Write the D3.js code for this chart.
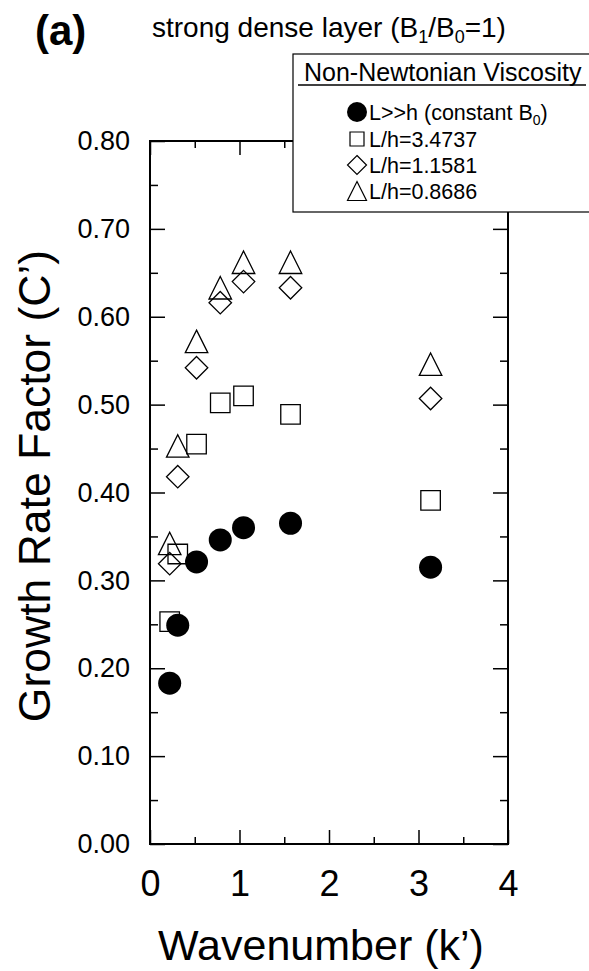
<!DOCTYPE html>
<html lang="en">
<head>
    <meta charset="utf8">
    <title>Growth Rate Factor</title>
    <script src="https://d3js.org/d3.v7.min.js"></script>
    <style>
        body { margin: 0; background: #fff; }
        svg { display: block; font-family: Arial, "Liberation Sans", Helvetica, sans-serif; }
    </style>
</head>
<body>
    <svg id="chart" width="589" height="971"></svg>
    <script>
        // wavenumbers k' for each column of points
        const kValues = [0.22, 0.31, 0.52, 0.785, 1.045, 1.57, 3.135];

        // growth rate factor C' for each series
        const constantB0 = [0.183, 0.249, 0.321, 0.346, 0.360, 0.365, 0.315];
        const lh34737 = [0.253, 0.330, 0.455, 0.502, 0.510, 0.489, 0.391];
        const lh11581 = [0.319, 0.418, 0.542, 0.616, 0.640, 0.633, 0.507];
        const lh08686 = [0.342, 0.453, 0.572, 0.633, 0.662, 0.662, 0.546];

        const yMajor = [0, 0.1, 0.2, 0.3, 0.4, 0.5, 0.6, 0.7, 0.8];
        const yMinor = [0.05, 0.15, 0.25, 0.35, 0.45, 0.55, 0.65, 0.75];
        const xMajor = [0, 1, 2, 3, 4];
        const xMinor = [0.5, 1.5, 2.5, 3.5];

        const legendLabels = ["L>>h (constant B", "L/h=3.4737", "L/h=1.1581", "L/h=0.8686"];

        const svg = d3.select("#chart");

        const x = d3.scaleLinear().domain([0, 4]).range([150, 508]);
        const y = d3.scaleLinear().domain([0, 0.8]).range([844, 141]);

        // marker shapes, centred on 0,0
        function marker(shape, s) {
            const h = s / 2;
            const p = d3.path();
            if (shape === "square") {
                p.rect(-h, -h, s, s);
            } else if (shape === "diamond") {
                p.moveTo(0, -h); p.lineTo(h, 0); p.lineTo(0, h); p.lineTo(-h, 0); p.closePath();
            } else if (shape === "triangle") {
                p.moveTo(0, -h); p.lineTo(h, h); p.lineTo(-h, h); p.closePath();
            }
            return p.toString();
        }

        // ticks, all pointing in
        const tickStyle = g => {
            g.select(".domain").remove();
            g.selectAll("line").attr("stroke", "#000").attr("stroke-width", 1.5);
            g.selectAll("text").attr("fill", "#000");
        };

        svg.append("g").attr("transform", "translate(150,0)")
            .call(d3.axisLeft(y).tickValues(yMajor).tickSize(-15).tickPadding(20).tickFormat(d3.format(".2f")))
            .call(tickStyle)
            .selectAll("text").attr("font-size", 27).attr("font-family", null);
        svg.append("g").attr("transform", "translate(150,0)")
            .call(d3.axisLeft(y).tickValues(yMinor).tickSize(-8).tickFormat(""))
            .call(tickStyle);
        svg.append("g").attr("transform", "translate(508,0)")
            .call(d3.axisRight(y).tickValues(yMajor).tickSize(-15).tickFormat(""))
            .call(tickStyle);
        svg.append("g").attr("transform", "translate(508,0)")
            .call(d3.axisRight(y).tickValues(yMinor).tickSize(-8).tickFormat(""))
            .call(tickStyle);

        svg.append("g").attr("transform", "translate(0,844)")
            .call(d3.axisBottom(x).tickValues(xMajor).tickSize(-14).tickPadding(26).tickFormat(d3.format("d")))
            .call(tickStyle)
            .selectAll("text").attr("font-size", 36).attr("font-family", null);
        svg.append("g").attr("transform", "translate(0,844)")
            .call(d3.axisBottom(x).tickValues(xMinor).tickSize(-7).tickFormat(""))
            .call(tickStyle);
        svg.append("g").attr("transform", "translate(0,141)")
            .call(d3.axisTop(x).tickValues(xMajor).tickSize(-14).tickFormat(""))
            .call(tickStyle);
        svg.append("g").attr("transform", "translate(0,141)")
            .call(d3.axisTop(x).tickValues(xMinor).tickSize(-7).tickFormat(""))
            .call(tickStyle);

        // frame
        svg.append("rect")
            .attr("x", x(0)).attr("y", y(0.8))
            .attr("width", x(4) - x(0)).attr("height", y(0) - y(0.8))
            .attr("fill", "none").attr("stroke", "#000").attr("stroke-width", 2);

        // open markers
        const openSeries = [
            { values: lh34737, shape: "square", size: 19.5 },
            { values: lh11581, shape: "diamond", size: 22.5 },
            { values: lh08686, shape: "triangle", size: 22.5 }
        ];
        openSeries.forEach(s => {
            svg.append("g").selectAll("path")
                .data(s.values)
                .join("path")
                .attr("transform", (d, i) => `translate(${x(kValues[i])},${y(d)})`)
                .attr("d", marker(s.shape, s.size))
                .attr("fill", "none")
                .attr("stroke", "#000")
                .attr("stroke-width", 1.3);
        });

        svg.append("g").selectAll("circle")
            .data(constantB0)
            .join("circle")
            .attr("cx", (d, i) => x(kValues[i]))
            .attr("cy", d => y(d))
            .attr("r", 11.5)
            .attr("fill", "#000");

        // legend
        const legend = svg.append("g");
        legend.append("rect")
            .attr("x", 293).attr("y", 54).attr("width", 320).attr("height", 158)
            .attr("fill", "#fff").attr("stroke", "#000").attr("stroke-width", 1.2);
        legend.append("text")
            .attr("x", 304).attr("y", 81)
            .attr("font-size", 25)
            .text("Non-Newtonian Viscosity");
        legend.append("line")
            .attr("x1", 298).attr("x2", 586).attr("y1", 85).attr("y2", 85)
            .attr("stroke", "#000").attr("stroke-width", 1.5);

        const rowY = [112, 139, 165, 191];
        const legendShapes = ["circle", "square", "diamond", "triangle"];
        const legendSizes = [20, 14, 19, 19];
        legendShapes.forEach((shape, i) => {
            if (shape === "circle") {
                legend.append("circle").attr("cx", 357).attr("cy", rowY[i]).attr("r", legendSizes[i] / 2).attr("fill", "#000");
            } else {
                legend.append("path")
                    .attr("transform", `translate(357,${rowY[i]})`)
                    .attr("d", marker(shape, legendSizes[i]))
                    .attr("fill", "none").attr("stroke", "#000").attr("stroke-width", 1.2);
            }
            const t = legend.append("text")
                .attr("x", 369).attr("y", rowY[i] + 8)
                .attr("font-size", 21.5)
                .text(legendLabels[i]);
            if (i === 0) {
                t.append("tspan").attr("font-size", 14).attr("dy", 5).text("0");
                t.append("tspan").attr("dy", -5).text(")");
            }
        });

        // titles
        svg.append("text")
            .attr("x", 35).attr("y", 45)
            .attr("font-size", 42).attr("font-weight", "bold")
            .text("(a)");

        const sub = svg.append("text")
            .attr("x", 152).attr("y", 37)
            .attr("font-size", 28)
            .text("strong dense layer (B");
        sub.append("tspan").attr("font-size", 18).attr("dy", 6).text("1");
        sub.append("tspan").attr("dy", -6).text("/B");
        sub.append("tspan").attr("font-size", 18).attr("dy", 6).text("0");
        sub.append("tspan").attr("dy", -6).text("=1)");

        svg.append("text")
            .attr("transform", "translate(50,486) rotate(-90)")
            .attr("text-anchor", "middle")
            .attr("font-size", 44.5)
            .text("Growth Rate Factor (C\u2019)");

        svg.append("text")
            .attr("x", 321).attr("y", 960)
            .attr("text-anchor", "middle")
            .attr("font-size", 43)
            .text("Wavenumber (k\u2019)");
    </script>
</body>
</html>
